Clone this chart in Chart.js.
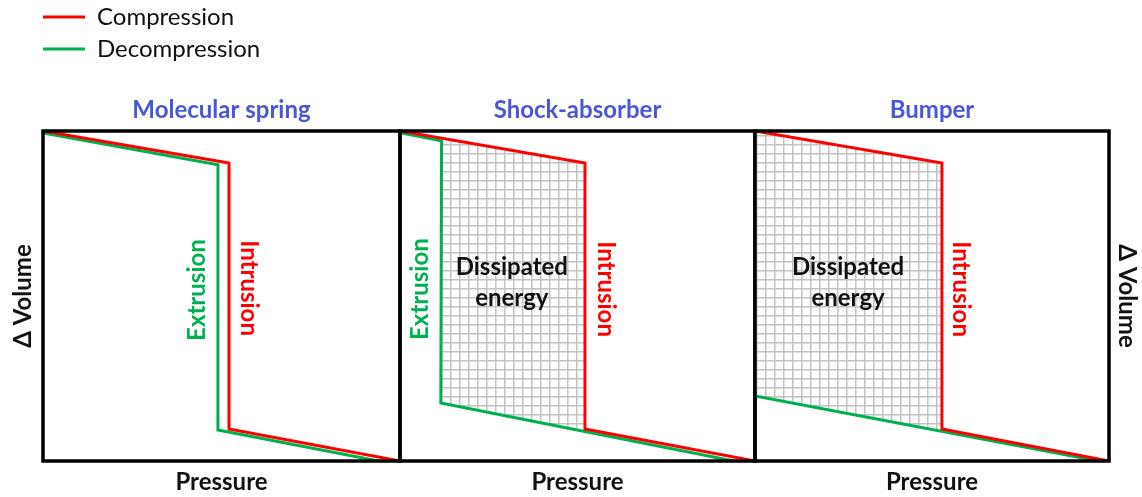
<!DOCTYPE html>
<html>
<head>
<meta charset="utf-8">
<script src="https://cdn.jsdelivr.net/npm/chart.js"></script>
<style>
  body { margin: 0; background: #fff; }
  #wrap { position: relative; width: 1142px; height: 497px; overflow: hidden; }
  canvas { position: absolute; left: 0; top: 0; }
</style>
</head>
<body>
<div id="wrap">
  <canvas id="legend" width="600" height="80" style="top:-3px"></canvas>
  <canvas id="spring" width="1142" height="497"></canvas>
  <canvas id="shock" width="1142" height="497"></canvas>
  <canvas id="bumper" width="1142" height="497"></canvas>
</div>
<script>
// [pressure, volume change] in arbitrary 0-100 units
const springCompression = [[0, 100], [52.1, 90.3], [52.1, 9.7], [100, 0]];
const springDecompression = [[0, 99.4], [49, 89.8], [49, 9.4], [94, 0]];

const shockCompression = [[0, 100], [52.1, 90.3], [52.1, 9.7], [100, 0]];
const shockDecompression = [[0, 99.5], [11.7, 97], [11.5, 17.6], [94, 0]];
const shockEnergy = [[11.6, 97.8], [52.1, 90.3], [52.1, 8.9], [11.5, 17.6]];

const bumperCompression = [[0, 100], [52.8, 90.3], [52.8, 9.7], [100, 0]];
const bumperDecompression = [[0, 19.7], [97, 0]];
const bumperEnergy = [[0, 100], [52.8, 90.3], [52.8, 9.0], [0, 19.7]];

const seriesNames = ['Compression', 'Decompression'];
const panelTitles = ['Molecular spring', 'Shock-absorber', 'Bumper'];
const xTitle = 'Pressure';
const yTitle = 'Δ Volume';

const RED = '#ff0000';
const GREEN = '#00b050';
const TITLE_BLUE = '#4b57d4';
const FONT = 'Lato';
const SIZE = 24;

Chart.defaults.font.family = FONT;

const pts = arr => arr.map(([x, y]) => ({x, y}));

function gridPattern() {
  const c = document.createElement('canvas');
  c.width = c.height = 9;
  const g = c.getContext('2d');
  g.fillStyle = '#fff';
  g.fillRect(0, 0, 9, 9);
  g.fillStyle = '#c2c2c2';
  g.fillRect(0, 0, 9, 1.5);
  g.fillRect(0, 0, 1.5, 9);
  return g.createPattern(c, 'repeat');
}

// black box round the plot area
const frame = {
  id: 'frame',
  afterDatasetsDraw(chart) {
    const {ctx, chartArea: a} = chart;
    ctx.save();
    ctx.strokeStyle = '#000';
    ctx.lineWidth = 3.5;
    ctx.strokeRect(a.left, a.top, a.right - a.left, a.bottom - a.top);
    ctx.restore();
  }
};

function notes(items) {
  return {
    id: 'notes',
    afterDatasetsDraw(chart) {
      const {ctx, scales: {x, y}} = chart;
      ctx.save();
      ctx.font = 'bold ' + SIZE + 'px ' + FONT;
      ctx.textAlign = 'center';
      ctx.textBaseline = 'middle';
      for (const n of items) {
        const lines = n.text.split('\n');
        ctx.save();
        ctx.translate(x.getPixelForValue(n.x), y.getPixelForValue(n.y));
        ctx.rotate((n.rotate || 0) * Math.PI / 180);
        ctx.fillStyle = n.color;
        lines.forEach((t, i) => ctx.fillText(t, 0, (i - (lines.length - 1) / 2) * 31));
        ctx.restore();
      }
      ctx.restore();
    }
  };
}

function line(label, data, color, order) {
  return {
    label: label,
    data: pts(data),
    borderColor: color,
    backgroundColor: color,
    borderWidth: 3,
    pointRadius: 0,
    tension: 0,
    fill: false,
    order: order
  };
}

function panel(id, title, comp, decomp, energy, opts) {
  const datasets = [
    line(seriesNames[0], comp, RED, 0),
    line(seriesNames[1], decomp, GREEN, 1)
  ];
  if (energy) {
    datasets.push({
      label: 'Dissipated energy',
      data: pts(energy),
      fill: 'shape',
      backgroundColor: gridPattern(),
      borderWidth: 0,
      pointRadius: 0,
      order: 2
    });
  }
  const boldTitle = {size: SIZE, weight: 'bold'};
  new Chart(document.getElementById(id), {
    type: 'line',
    data: {datasets: datasets},
    options: {
      responsive: false,
      animation: false,
      events: [],
      layout: {padding: opts.padding},
      plugins: {
        legend: {display: false},
        tooltip: {enabled: false},
        title: {
          display: true,
          text: title,
          color: TITLE_BLUE,
          font: boldTitle,
          fullSize: false,
          padding: {top: 95.6, bottom: 6.6}
        }
      },
      scales: {
        x: {
          type: 'linear', min: 0, max: 100,
          ticks: {display: false},
          grid: {display: false, drawTicks: false},
          border: {display: false},
          title: {display: true, text: xTitle, color: '#111', font: boldTitle, padding: {top: 7.2, bottom: 0}}
        },
        y: {
          type: 'linear', min: 0, max: 100,
          display: !!opts.yPos,
          position: opts.yPos || 'left',
          ticks: {display: false},
          grid: {display: false, drawTicks: false},
          border: {display: false},
          title: {display: true, text: yTitle, color: '#111', font: boldTitle, padding: opts.yPad || 0}
        }
      }
    },
    plugins: [frame, notes(opts.notes)]
  });
}

panel('spring', panelTitles[0], springCompression, springDecompression, null, {
  padding: {left: 0, right: 742, top: 0, bottom: 0},
  yPos: 'left',
  yPad: {top: 9.1, bottom: 5.1},
  notes: [
    {text: 'Extrusion', x: 43.1, y: 51.8, color: GREEN, rotate: -90},
    {text: 'Intrusion', x: 57.7, y: 52.4, color: RED, rotate: 90}
  ]
});

panel('shock', panelTitles[1], shockCompression, shockDecompression, shockEnergy, {
  padding: {left: 400, right: 387, top: 0, bottom: 0},
  notes: [
    {text: 'Extrusion', x: 5.6, y: 52.1, color: GREEN, rotate: -90},
    {text: 'Intrusion', x: 58.0, y: 52.1, color: RED, rotate: 90},
    {text: 'Dissipated\nenergy', x: 31.5, y: 53.9, color: '#111'}
  ]
});

panel('bumper', panelTitles[2], bumperCompression, bumperDecompression, bumperEnergy, {
  padding: {left: 755, right: 0, top: 0, bottom: 0},
  yPos: 'right',
  yPad: {top: 0.6, bottom: 3.6},
  notes: [
    {text: 'Dissipated\nenergy', x: 26.3, y: 53.9, color: '#111'},
    {text: 'Intrusion', x: 58.2, y: 52.1, color: RED, rotate: 90}
  ]
});

// shared legend, stacked like the original
new Chart(document.getElementById('legend'), {
  type: 'line',
  data: {
    datasets: seriesNames.map((name, i) => ({
      label: name,
      data: [],
      backgroundColor: i ? GREEN : RED,
      borderColor: i ? GREEN : RED,
      borderWidth: 0
    }))
  },
  options: {
    responsive: false,
    animation: false,
    events: [],
    layout: {padding: {left: 35}},
    plugins: {
      legend: {
        position: 'left',
        align: 'start',
        maxWidth: 500,
        labels: {boxWidth: 42, boxHeight: 3, padding: 8, color: '#111', font: {size: SIZE}}
      },
      tooltip: {enabled: false}
    },
    scales: {x: {display: false}, y: {display: false}}
  }
});
</script>
</body>
</html>
